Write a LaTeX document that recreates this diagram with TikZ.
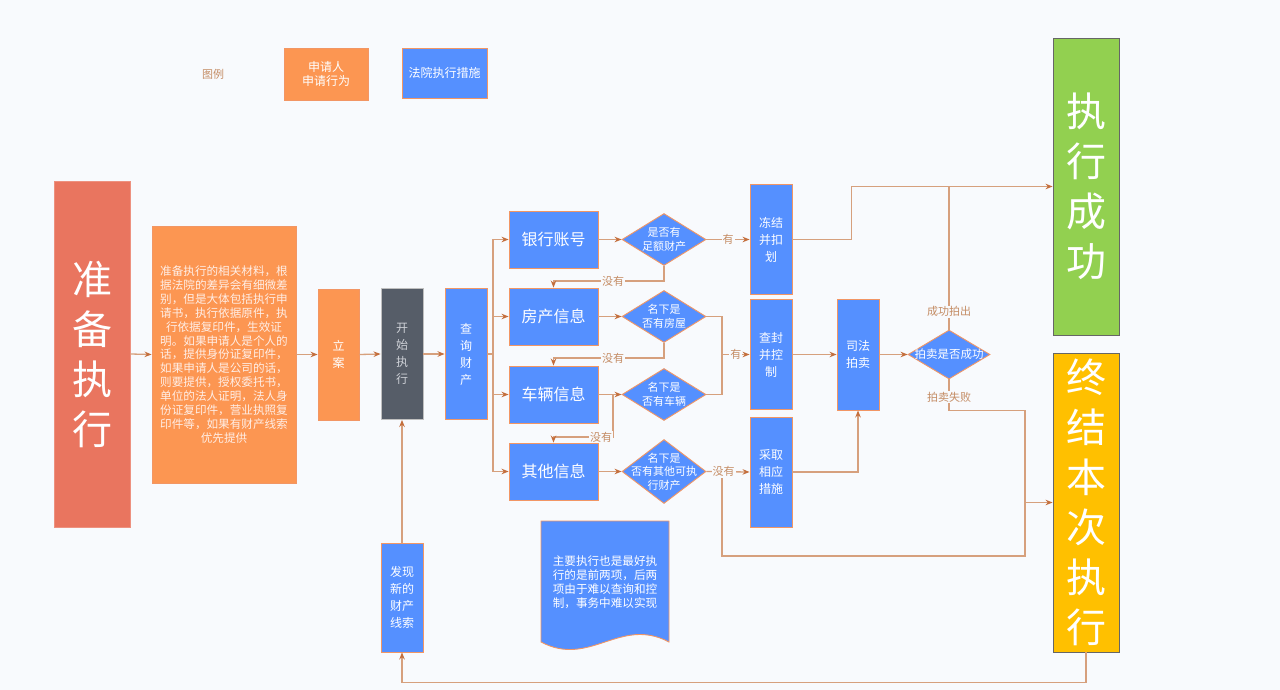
\documentclass[tikz,border=0pt]{standalone}
\usepackage{fontspec}
\setmainfont{Noto Sans CJK SC}
\usetikzlibrary{arrows.meta,shapes.geometric}
\definecolor{bgc}{RGB}{248,250,253}
\definecolor{redc}{RGB}{233,117,95}
\definecolor{orangec}{RGB}{252,150,82}
\definecolor{bluec}{RGB}{85,144,255}
\definecolor{grayc}{RGB}{86,93,104}
\definecolor{greenc}{RGB}{146,208,80}
\definecolor{yellowc}{RGB}{255,192,0}
\definecolor{linec}{RGB}{214,160,125}
\definecolor{tipc}{RGB}{196,110,60}
\definecolor{borderc}{RGB}{242,150,100}
\definecolor{lblc}{RGB}{196,140,100}
\tikzset{
  base/.style={draw=borderc, line width=0.9pt, inner sep=0pt, align=center, text=white},
  orangebox/.style={base, fill=orangec},
  bluebox/.style={base, fill=bluec},
  darkbox/.style={base, fill=grayc, draw=gray!50, text={rgb,255:red,205;green,208;blue,214}},
  bigbox/.style={base, draw=gray!80!black, font=\fontsize{40}{50}\selectfont},
  decision/.style={diamond, base, fill=bluec, minimum width=84pt, minimum height=52pt},
  dtext/.style={text=white, align=center, font=\fontsize{11}{13.5}\selectfont},
  conn/.style={draw=linec, line width=1.3pt},
  arr/.style={conn, -{Stealth[length=7pt,width=5.5pt,color=tipc]}},
  lbl/.style={fill=bgc, inner sep=1pt, text=lblc, font=\fontsize{11}{13}\selectfont},
  small/.style={font=\fontsize{12}{17}\selectfont},
  mid/.style={font=\fontsize{16}{19}\selectfont}
}
\begin{document}
\begin{tikzpicture}[x=1pt,y=-1pt]
\fill[bgc] (0,0) rectangle (1280,690);
\useasboundingbox (0,0) rectangle (1280,690);

% legend
\node[text=lblc, font=\fontsize{11}{13}\selectfont] (tuli) at (213,74) {图例};
\node[orangebox, minimum width=84pt, minimum height=52pt, font=\fontsize{12}{14}\selectfont] (leg1) at (326,74) {申请人\\申请行为};
\node[bluebox, minimum width=85pt, minimum height=50pt, font=\fontsize{12}{14}\selectfont] (leg2) at (444.5,73) {法院执行措施};

% left chain
\node[bigbox, fill=redc, draw=redc!80!white, minimum width=76pt, minimum height=346pt] (prep) at (92,354) {准\\备\\执\\行};
\node[orangebox, minimum width=144pt, minimum height=257pt, text={rgb,255:red,255;green,238;blue,230}, font=\fontsize{11.6}{13.9}\selectfont] (txt) at (224,354.5) {准备执行的相关材料，根\\据法院的差异会有细微差\\别，但是大体包括执行申\\请书，执行依据原件，执\\行依据复印件，生效证\\明。如果申请人是个人的\\话，提供身份证复印件，\\如果申请人是公司的话，\\则要提供，授权委托书，\\单位的法人证明，法人身\\份证复印件，营业执照复\\印件等，如果有财产线索\\优先提供};
\node[orangebox, small, minimum width=41pt, minimum height=131pt] (lian) at (338.5,354.5) {立\\案};
\node[darkbox, small, minimum width=42pt, minimum height=131pt] (kaishi) at (402,354) {开\\始\\执\\行};
\node[bluebox, small, minimum width=42pt, minimum height=131pt] (chaxun) at (466,354) {查\\询\\财\\产};

% asset boxes
\node[bluebox, mid, minimum width=89pt, minimum height=57pt] (yinhang) at (553.5,239.5) {银行账号};
\node[bluebox, mid, minimum width=89pt, minimum height=57pt] (fangchan) at (553.5,316.5) {房产信息};
\node[bluebox, mid, minimum width=89pt, minimum height=57pt] (cheliang) at (553.5,394.5) {车辆信息};
\node[bluebox, mid, minimum width=89pt, minimum height=57pt] (qita) at (553.5,471.5) {其他信息};

% decisions
\node[decision, label={[dtext]center:是否有\\足额财产}] (d1) at (664,239.5) {};
\node[decision, label={[dtext]center:名下是\\否有房屋}] (d2) at (664,316.5) {};
\node[decision, label={[dtext]center:名下是\\否有车辆}] (d3) at (664,394.5) {};
\node[decision, minimum height=64pt, label={[dtext]center:名下是\\否有其他可执\\行财产}] (d4) at (664,471.5) {};

% measures
\node[bluebox, small, minimum width=42pt, minimum height=110pt] (dongjie) at (771,239.5) {冻结\\并扣\\划};
\node[bluebox, small, minimum width=42pt, minimum height=110pt] (chafeng) at (771,354.5) {查封\\并控\\制};
\node[bluebox, small, minimum width=42pt, minimum height=110pt] (caiqu) at (771,472) {采取\\相应\\措施};
\node[bluebox, small, minimum width=42pt, minimum height=111pt] (sifa) at (858,354.5) {司法\\拍卖};
\node[diamond, base, fill=bluec, minimum width=82pt, minimum height=49pt, label={[dtext, font=\fontsize{11.5}{13}\selectfont]center:拍卖是否成功}] (d5) at (949,354.5) {};

% results
\node[bigbox, fill=greenc, minimum width=66pt, minimum height=297pt] (success) at (1086,186.5) {执\\行\\成\\功};
\node[bigbox, fill=yellowc, minimum width=66pt, minimum height=299pt] (zhongjie) at (1086,502.5) {终\\结\\本\\次\\执\\行};

% new clue
\node[bluebox, small, minimum width=42pt, minimum height=109pt] (faxian) at (402,597.5) {发现\\新的\\财产\\线索};

% note document
\filldraw[fill=bluec, draw=borderc, line width=0.9pt] (541,521) -- (669,521) -- (669,642) .. controls (620,616) and (590,668) .. (541,642) -- cycle;
\node[text=white, align=center, font=\fontsize{11.6}{14}\selectfont] (doc) at (605,582) {主要执行也是最好执\\行的是前两项，后两\\项由于难以查询和控\\制，事务中难以实现};

% connectors
\draw[arr] (prep.east) -- (txt.west);
\draw[arr] (txt.east) -- (lian.west);
\draw[arr] (lian.east) -- (kaishi.west);
\draw[arr] (kaishi.east) -- (chaxun.west);
\coordinate (bus) at (493,354);
\draw[conn] (chaxun.east) -- (bus);
\draw[arr] (bus) |- (yinhang.west);
\draw[arr] (bus) |- (fangchan.west);
\draw[arr] (bus) |- (cheliang.west);
\draw[arr] (bus) |- (qita.west);

\draw[arr] (yinhang.east) -- (d1.west);
\draw[arr] (fangchan.east) -- (d2.west);
\draw[arr] (cheliang.east) -- (d3.west);
\draw[arr] (qita.east) -- (d4.west);

\draw[arr] (d1.south) -- ++(0,15) -| node[lbl,pos=0.23]{没有} (fangchan.north);
\draw[arr] (d2.south) -- ++(0,15) -| node[lbl,pos=0.23]{没有} (cheliang.north);
\coordinate (c3) at (613,394.5);
\draw[arr] (c3) -- ++(0,42.5) -| node[lbl,pos=0.1]{没有} (qita.north);

\draw[arr] (d1.east) -- node[lbl]{有} (dongjie.west);
\coordinate (j2) at (722,354.5);
\draw[conn] (d2.east) -| (j2) |- (d3.east);
\draw[arr] (j2) -- node[lbl]{有} (chafeng.west);

\coordinate (j4) at (722,471.5);
\coordinate (fail) at (1025,502.5);
\draw[arr] (j4) -- ++(0,84.5) -| (fail) -- (zhongjie.west);
\draw[arr] (d4.east) -- node[lbl, pos=0.4]{没有} (caiqu.west);

\draw[arr] (caiqu.east) -| (sifa.south);
\draw[arr] (chafeng.east) -- (sifa.west);
\draw[arr] (sifa.east) -- (d5.west);

\draw[arr] (dongjie.east) -- ++(59,0) |- (success.west);
\draw[conn] (d5.north) -- node[lbl,pos=0.125]{成功拍出} (d5.north |- success.west);
\draw[conn] (d5.south) -- node[lbl,pos=0.58]{拍卖失败} ++(0,31) -| (fail);

\draw[arr] (zhongjie.south) -- ++(0,30) -| (faxian.south);
\draw[arr] (faxian.north) -- (kaishi.south);
\end{tikzpicture}
\end{document}
